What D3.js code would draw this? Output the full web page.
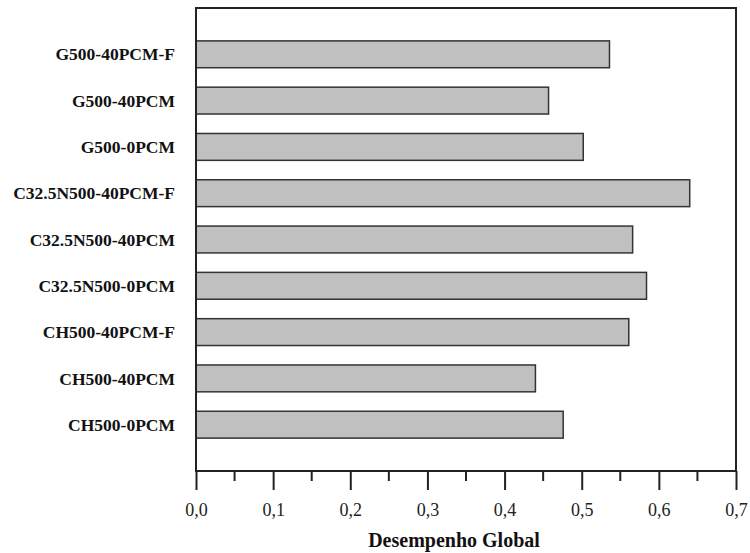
<!DOCTYPE html>
<html>
<head>
<meta charset="utf-8">
<script src="https://cdn.jsdelivr.net/npm/d3@7"></script>
<style>
  html, body { margin: 0; padding: 0; background: #fff; }
  svg { display: block; font-family: "Liberation Serif", "Times New Roman", serif; }
</style>
</head>
<body>
<div id="chart"></div>
<script>
// categories listed bottom to top
const categories = [
  "CH500-0PCM", "CH500-40PCM", "CH500-40PCM-F",
  "C32.5N500-0PCM", "C32.5N500-40PCM", "C32.5N500-40PCM-F",
  "G500-0PCM", "G500-40PCM", "G500-40PCM-F"
];
const values = [0.476, 0.440, 0.561, 0.584, 0.566, 0.640, 0.502, 0.457, 0.536];
const xTicks = [0, 0.1, 0.2, 0.3, 0.4, 0.5, 0.6, 0.7];
const xLabel = "Desempenho Global";

const W = 750, H = 553;
const margin = { top: 8, right: 14, bottom: 82, left: 196 };
const width = W - margin.left - margin.right;
const height = H - margin.top - margin.bottom;

const svg = d3.select("#chart").append("svg")
  .attr("width", W).attr("height", H)
  .append("g")
  .attr("transform", `translate(${margin.left},${margin.top})`);

const x = d3.scaleLinear().domain([0, 0.7]).range([0, width]);
// categories sit at 1..9 on a 0..10 axis
const y = d3.scaleLinear().domain([0, 10]).range([height, 0]);
const barH = y(0) - y(0.58);

// ---- bars ----
svg.selectAll("rect.bar")
  .data(values)
  .join("rect")
  .attr("class", "bar")
  .attr("x", x(0))
  .attr("y", (d, i) => y(i + 1) - barH / 2)
  .attr("width", d => x(d) - x(0))
  .attr("height", barH)
  .attr("fill", "#c0c0c0")
  .attr("stroke", "#333")
  .attr("stroke-width", 1.5);

// ---- category labels ----
svg.selectAll("text.cat")
  .data(categories)
  .join("text")
  .attr("class", "cat")
  .attr("x", -21)
  .attr("y", (d, i) => y(i + 1))
  .attr("dy", "0.35em")
  .attr("text-anchor", "end")
  .style("font-size", "17.5px")
  .style("font-weight", "bold")
  .style("fill", "#111")
  .text(d => d);

// ---- frame ----
svg.append("rect")
  .attr("x", 0).attr("y", 0)
  .attr("width", width).attr("height", height)
  .attr("fill", "none")
  .attr("stroke", "#222")
  .attr("stroke-width", 2);

// ---- x axis: major + minor ticks ----
const minor = d3.range(0.05, 0.7, 0.1);
svg.selectAll("line.minor")
  .data(minor)
  .join("line")
  .attr("x1", d => x(d)).attr("x2", d => x(d))
  .attr("y1", height).attr("y2", height + 10)
  .attr("stroke", "#222").attr("stroke-width", 2);

const xAxis = d3.axisBottom(x)
  .tickValues(xTicks)
  .tickSize(19)
  .tickPadding(13)
  .tickFormat(d => d3.format(".1f")(d).replace(".", ","));

const gx = svg.append("g")
  .attr("transform", `translate(0,${height})`)
  .call(xAxis);
gx.select(".domain").remove();
gx.selectAll(".tick line").attr("stroke", "#222").attr("stroke-width", 2);
gx.selectAll(".tick text")
  .style("font-size", "18px")
  .style("font-family", "Liberation Serif, serif")
  .style("fill", "#222");

svg.append("text")
  .attr("x", (x(0) + x(0.7)) / 2 - 12)
  .attr("y", height + 76)
  .attr("text-anchor", "middle")
  .style("font-size", "20px")
  .style("font-weight", "bold")
  .style("fill", "#111")
  .text(xLabel);
</script>
</body>
</html>
